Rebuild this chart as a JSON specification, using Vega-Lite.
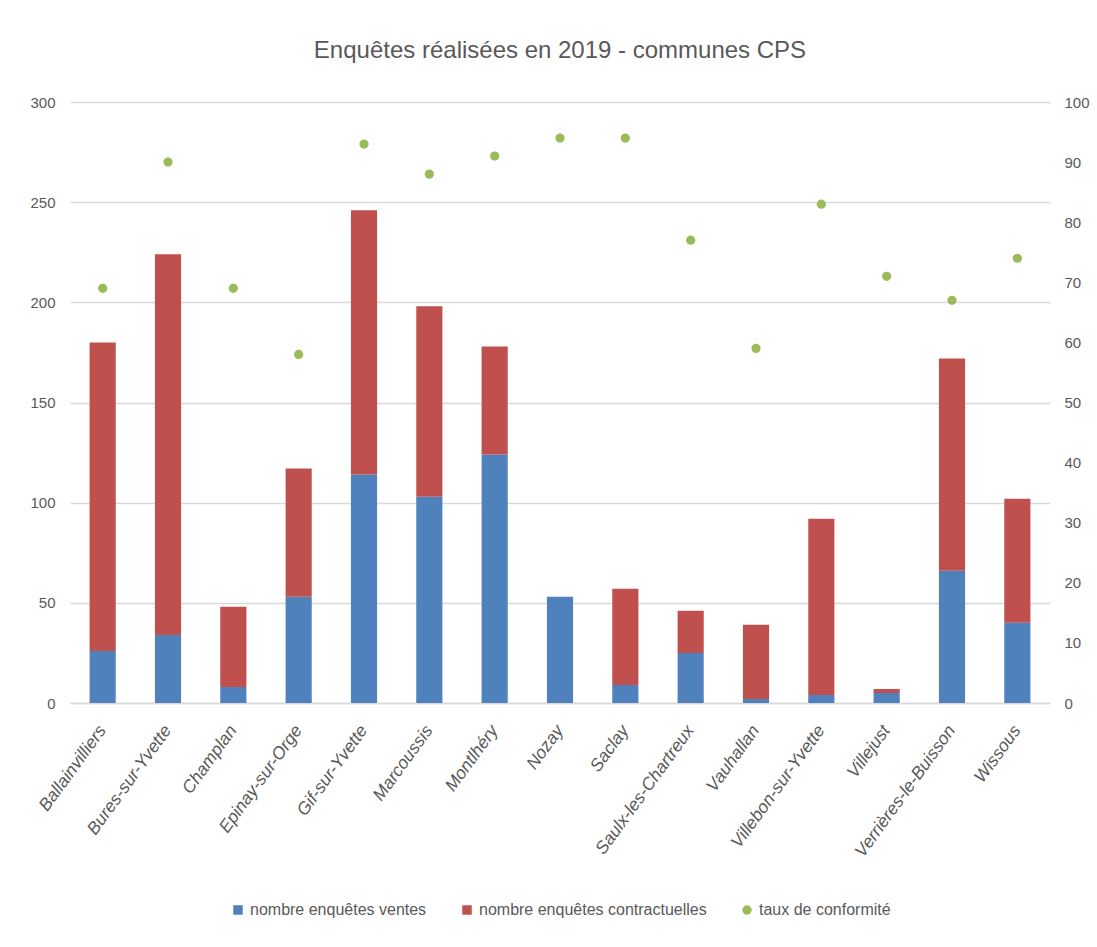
{
  "$schema": "https://vega.github.io/schema/vega-lite/v6.json",
  "width": 980,
  "height": 601,
  "autosize": {"type": "none"},
  "padding": {"left": 70, "top": 102, "right": 47, "bottom": 244},
  "background": "white",
  "config": {
    "view": {"stroke": null},
    "font": "Liberation Sans",
    "legend": {"layout": {"bottom": {"anchor": "middle"}}}
  },
  "title": {
    "text": "Enquêtes réalisées en 2019 - communes CPS",
    "fontSize": 24,
    "font": "Liberation Sans",
    "fontWeight": "normal",
    "color": "#595959",
    "offset": 32
  },
  "data": {
    "values": [
      {"commune": "Ballainvilliers", "nombre enquêtes ventes": 26, "nombre enquêtes contractuelles": 154, "taux de conformité": 69},
      {"commune": "Bures-sur-Yvette", "nombre enquêtes ventes": 34, "nombre enquêtes contractuelles": 190, "taux de conformité": 90},
      {"commune": "Champlan", "nombre enquêtes ventes": 8, "nombre enquêtes contractuelles": 40, "taux de conformité": 69},
      {"commune": "Epinay-sur-Orge", "nombre enquêtes ventes": 53, "nombre enquêtes contractuelles": 64, "taux de conformité": 58},
      {"commune": "Gif-sur-Yvette", "nombre enquêtes ventes": 114, "nombre enquêtes contractuelles": 132, "taux de conformité": 93},
      {"commune": "Marcoussis", "nombre enquêtes ventes": 103, "nombre enquêtes contractuelles": 95, "taux de conformité": 88},
      {"commune": "Montlhéry", "nombre enquêtes ventes": 124, "nombre enquêtes contractuelles": 54, "taux de conformité": 91},
      {"commune": "Nozay", "nombre enquêtes ventes": 53, "nombre enquêtes contractuelles": 0, "taux de conformité": 94},
      {"commune": "Saclay", "nombre enquêtes ventes": 9, "nombre enquêtes contractuelles": 48, "taux de conformité": 94},
      {"commune": "Saulx-les-Chartreux", "nombre enquêtes ventes": 25, "nombre enquêtes contractuelles": 21, "taux de conformité": 77},
      {"commune": "Vauhallan", "nombre enquêtes ventes": 2, "nombre enquêtes contractuelles": 37, "taux de conformité": 59},
      {"commune": "Villebon-sur-Yvette", "nombre enquêtes ventes": 4, "nombre enquêtes contractuelles": 88, "taux de conformité": 83},
      {"commune": "Villejust", "nombre enquêtes ventes": 5, "nombre enquêtes contractuelles": 2, "taux de conformité": 71},
      {"commune": "Verrières-le-Buisson", "nombre enquêtes ventes": 66, "nombre enquêtes contractuelles": 106, "taux de conformité": 67},
      {"commune": "Wissous", "nombre enquêtes ventes": 40, "nombre enquêtes contractuelles": 62, "taux de conformité": 74}
    ]
  },
  "encoding": {
    "x": {
      "field": "commune",
      "type": "nominal",
      "sort": null,
      "scale": {"paddingInner": 0.6, "paddingOuter": 0.3},
      "axis": {
        "title": null,
        "labelAngle": -54,
        "labelAlign": "right",
        "labelBaseline": "middle",
        "labelFontStyle": "italic",
        "labelFontSize": 17.5,
        "labelColor": "#595959",
        "labelPadding": 24,
        "labelLimit": 0,
        "ticks": false,
        "domainColor": "#D9D9D9",
        "domainWidth": 1.5
      }
    }
  },
  "layer": [
    {
      "transform": [
        {"fold": ["nombre enquêtes ventes", "nombre enquêtes contractuelles"], "as": ["serie", "valeur"]}
      ],
      "mark": {"type": "bar"},
      "encoding": {
        "y": {
          "field": "valeur",
          "type": "quantitative",
          "stack": "zero",
          "scale": {"domain": [0, 300]},
          "axis": {
            "title": null,
            "values": [0, 50, 100, 150, 200, 250, 300],
            "labelFontSize": 15,
            "labelColor": "#595959",
            "labelPadding": 15,
            "ticks": false,
            "domain": false,
            "gridColor": "#D9D9D9",
            "gridWidth": 1.5
          }
        },
        "color": {
          "field": "serie",
          "type": "nominal",
          "scale": {
            "domain": ["nombre enquêtes ventes", "nombre enquêtes contractuelles", "taux de conformité"],
            "range": ["#4F81BD", "#C0504D", "#9BBB59"]
          },
          "legend": {
            "title": null,
            "orient": "bottom",
            "direction": "horizontal",
            "offset": 42,
            "labelFontSize": 16,
            "labelColor": "#595959",
            "labelLimit": 0,
            "symbolSize": 90,
            "symbolStrokeWidth": 0,
            "columnPadding": 32,
            "labelOffset": 4,
            "encode": {
              "symbols": {
                "update": {
                  "shape": {"signal": "datum.value === 'taux de conformité' ? 'circle' : 'square'"},
                  "fillOpacity": {"value": 1}
                }
              }
            }
          }
        },
        "order": {"field": "serie", "sort": "descending"}
      }
    },
    {
      "mark": {"type": "point", "filled": true, "size": 85, "opacity": 1},
      "encoding": {
        "y": {
          "field": "taux de conformité",
          "type": "quantitative",
          "scale": {"domain": [0, 100]},
          "axis": {
            "title": null,
            "orient": "right",
            "values": [0, 10, 20, 30, 40, 50, 60, 70, 80, 90, 100],
            "labelFontSize": 15,
            "labelColor": "#595959",
            "labelPadding": 14,
            "ticks": false,
            "domain": false,
            "grid": false
          }
        },
        "color": {"datum": "taux de conformité"}
      }
    }
  ],
  "resolve": {"scale": {"y": "independent"}}
}
